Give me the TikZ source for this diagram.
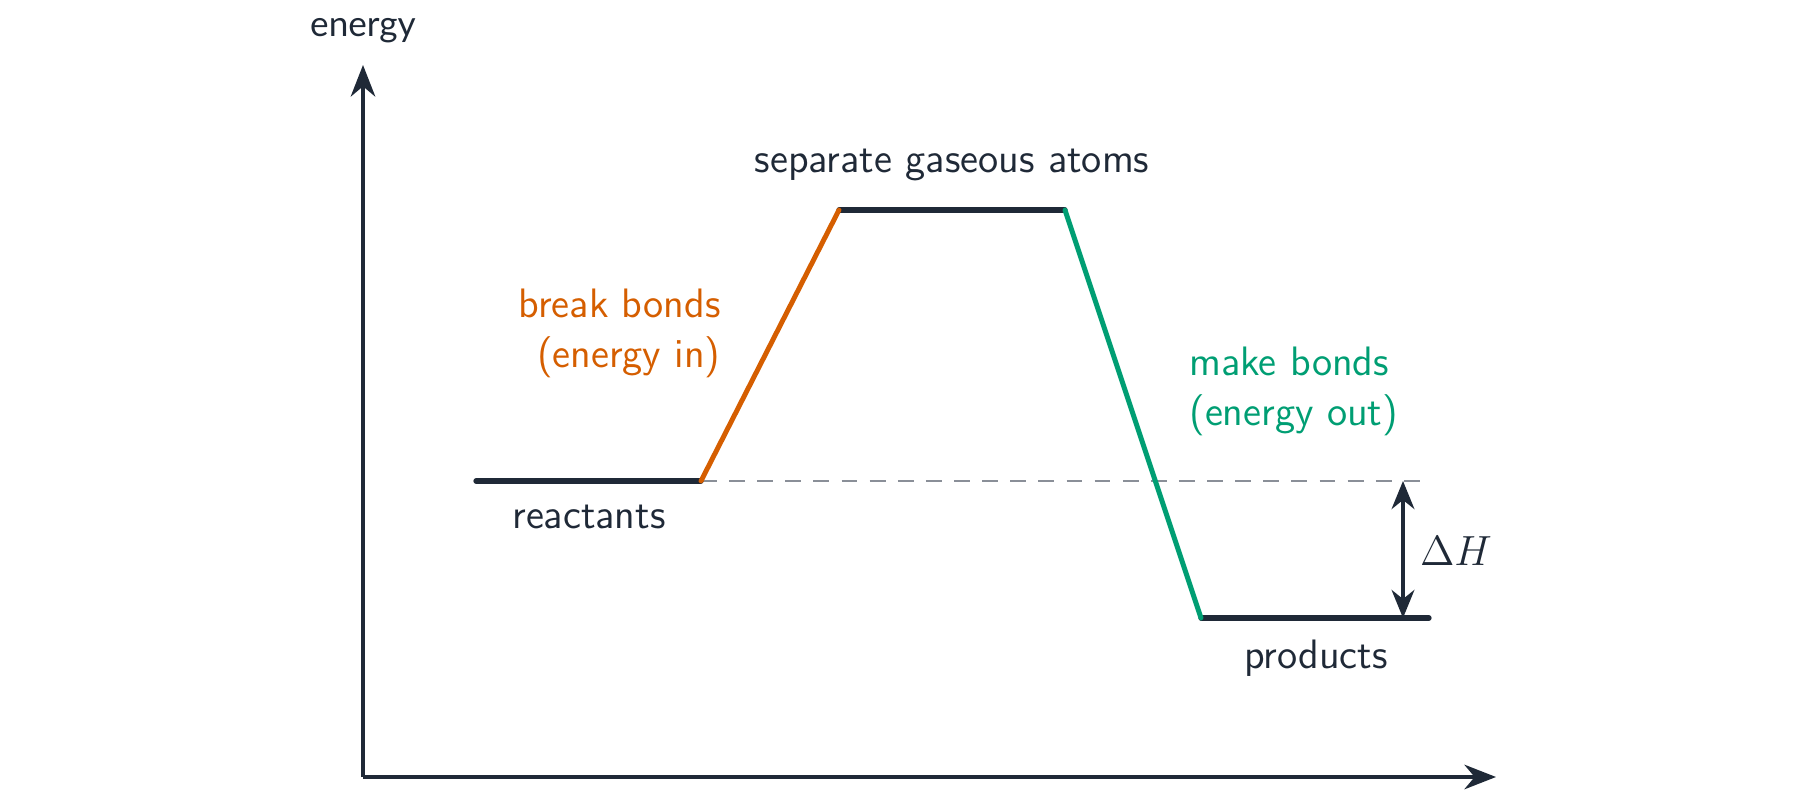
\documentclass[tikz,border=0pt]{standalone}
\usepackage{fontspec}
\newfontfamily\latofont{Lato}
\usetikzlibrary{arrows.meta}
\usetikzlibrary{math}
\definecolor{qdark}{HTML}{1F2937}
\definecolor{qorange}{HTML}{D55E00}
\definecolor{qgreen}{HTML}{009E73}
\definecolor{qgray}{HTML}{8A8F98}
\tikzset{
  level/.style={color=qdark, line width=1.5pt, line cap=round},
  lbl/.style={color=qdark, font=\sffamily\fontsize{11.7}{14.2}\selectfont},
}
\begin{document}
\begin{tikzpicture}
\tikzmath{
\R=3.15;
\T=5.86;
\P=1.78;
}
\useasboundingbox (0,0) rectangle (18,7.96);

%axes
\coordinate (o) at (3.63,0.19);
\coordinate (ytip) at (3.63,7.31);
\coordinate (xtip) at (14.96,0.19);
\draw[color=qdark, line width=1pt, -{Stealth[length=9pt,width=7pt]}] (o) -- (ytip);
\draw[color=qdark, line width=1pt, -{Stealth[length=9pt,width=7pt]}] (o) -- (xtip);
\node[color=qdark, font=\latofont\fontsize{10}{12}\selectfont] (energy) at (3.63,7.65) {energy};

%levels
\coordinate (r1) at (4.76,\R);
\coordinate (r2) at (7.01,\R);
\coordinate (t1) at (8.39,\T);
\coordinate (t2) at (10.65,\T);
\coordinate (p1) at (12.01,\P);
\coordinate (p2) at (14.29,\P);
\coordinate (d2) at (14.31,\R);

\draw[color=qgray, line width=0.8pt, dash pattern=on 4.5pt off 3.5pt] (r2) -- (d2);
\draw[level] (r1) -- (r2);
\draw[level] (t1) -- (t2);
\draw[level] (p1) -- (p2);
\draw[color=qorange, line width=1.4pt, line cap=round] (r2) -- (t1);
\draw[color=qgreen, line width=1.4pt, line cap=round] (t2) -- (p1);

%delta H
\coordinate (h1) at (14.03,\R);
\coordinate (h2) at (14.03,\P);
\draw[color=qdark, line width=1pt, {Stealth[length=8pt,width=6.5pt]}-{Stealth[length=8pt,width=6.5pt]}] (h1) -- (h2);
\node[color=qdark, font=\fontsize{13}{15}\selectfont] (dH) at (14.56,2.45) {$\Delta H$};

%labels
\node[lbl] (react) at (5.89,2.79) {reactants};
\node[lbl] (atoms) at (9.52,6.31) {separate gaseous atoms};
\node[lbl] (prod) at (13.16,1.38) {products};
\node[lbl, color=qorange, align=right, anchor=east] (brk) at (7.33,4.63) {break bonds\\(energy in)};
\node[lbl, color=qgreen, align=left, anchor=west] (mk) at (11.77,4.05) {make bonds\\(energy out)};
\end{tikzpicture}
\end{document}
